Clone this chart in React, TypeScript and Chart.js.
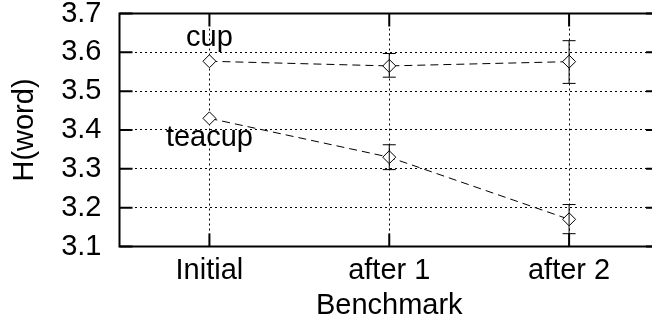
import React, { useEffect, useRef } from 'react';
import { Chart, registerables } from 'chart.js';

Chart.register(...registerables);

const categories = ['Initial', 'after 1', 'after 2'];
const seriesNames = ['cup', 'teacup'];
const cupValues = [3.577, 3.565, 3.576];
const cupLow = [3.577, 3.536, 3.52];
const cupHigh = [3.577, 3.597, 3.63];
const teacupValues = [3.43, 3.33, 3.17];
const teacupLow = [3.43, 3.298, 3.133];
const teacupHigh = [3.43, 3.362, 3.208];
const yMin = 3.1;
const yMax = 3.7;
const yStep = 0.1;
const xTitle = 'Benchmark';
const yTitle = 'H(word)';

const FONT = "'Liberation Sans', Arial, Helvetica, sans-serif";
const FS = 29;

const framePlugin = {
  id: 'frameAndBars',
  afterDatasetsDraw(chart: any) {
    const { ctx, chartArea: a, scales } = chart;
    const x = scales.x;
    const y = scales.y;
    ctx.save();
    ctx.strokeStyle = '#000';
    ctx.setLineDash([]);
    // error bars
    ctx.lineWidth = 1;
    const bars = [
      [cupLow, cupHigh],
      [teacupLow, teacupHigh],
    ];
    bars.forEach(([lo, hi]) => {
      categories.forEach((_, i) => {
        if (lo[i] === hi[i]) return;
        const px = x.getPixelForValue(i);
        const y1 = y.getPixelForValue(lo[i]);
        const y2 = y.getPixelForValue(hi[i]);
        ctx.beginPath();
        ctx.moveTo(px, y1);
        ctx.lineTo(px, y2);
        ctx.moveTo(px - 6.5, y1);
        ctx.lineTo(px + 6.5, y1);
        ctx.moveTo(px - 6.5, y2);
        ctx.lineTo(px + 6.5, y2);
        ctx.stroke();
      });
    });
    // frame
    ctx.lineWidth = 2;
    ctx.strokeRect(a.left, a.top, a.right - a.left, a.bottom - a.top);
    // inward ticks (mirrored)
    const tl = 13;
    ctx.beginPath();
    y.ticks.forEach((t: any) => {
      const py = y.getPixelForValue(t.value);
      ctx.moveTo(a.left, py);
      ctx.lineTo(a.left + tl, py);
      ctx.moveTo(a.right, py);
      ctx.lineTo(a.right - tl, py);
    });
    x.ticks.forEach((_: any, i: number) => {
      const px = x.getPixelForTick(i);
      ctx.moveTo(px, a.bottom);
      ctx.lineTo(px, a.bottom - tl);
      ctx.moveTo(px, a.top);
      ctx.lineTo(px, a.top + tl);
    });
    ctx.stroke();
    // series labels
    ctx.font = `${FS}px ${FONT}`;
    ctx.fillStyle = '#000';
    ctx.textAlign = 'center';
    ctx.textBaseline = 'alphabetic';
    const p0 = x.getPixelForValue(0);
    ctx.fillText(seriesNames[0], p0, y.getPixelForValue(cupValues[0]) - 15);
    ctx.fillText(seriesNames[1], p0, y.getPixelForValue(teacupValues[0]) + 28);
    ctx.restore();
  },
};

export default function App() {
  const ref = useRef<HTMLCanvasElement | null>(null);
  useEffect(() => {
    if (!ref.current) return;
    const ds = (name: string, data: number[]) => ({
      label: name,
      data,
      borderColor: '#000',
      borderWidth: 1,
      borderDash: [8, 5],
      pointStyle: 'rectRot',
      pointRadius: 6.5,
      pointBorderWidth: 1,
      pointBorderColor: '#000',
      pointBackgroundColor: '#fff',
      fill: false,
      tension: 0,
    });
    const chart = new Chart(ref.current, {
      type: 'line',
      data: {
        labels: categories,
        datasets: [ds(seriesNames[0], cupValues), ds(seriesNames[1], teacupValues)],
      },
      options: {
        responsive: false,
        animation: false,
        devicePixelRatio: 1,
        layout: { padding: { left: 0, top: 13.5, right: 21, bottom: 0 } },
        plugins: { legend: { display: false }, tooltip: { enabled: false } },
        scales: {
          x: {
            type: 'category',
            offset: true,
            grid: { offset: false, drawTicks: false, color: '#000', lineWidth: 1 },
            border: { display: false, dash: [2, 3] },
            ticks: { color: '#000', font: { family: FONT, size: FS }, padding: 7, maxRotation: 0, autoSkip: false },
            title: {
              display: true,
              text: xTitle,
              color: '#000',
              font: { family: FONT, size: FS, lineHeight: 1 },
              padding: { top: 0, bottom: 2 },
            },
            afterFit: (s: any) => {
              s.height = 75.5;
              s.paddingLeft = 0;
              s.paddingRight = 0;
            },
          },
          y: {
            min: yMin,
            max: yMax,
            grid: { drawTicks: false, color: '#000', lineWidth: 1 },
            border: { display: false, dash: [2, 3] },
            ticks: {
              stepSize: yStep,
              autoSkip: false,
              color: '#000',
              font: { family: FONT, size: FS },
              padding: 18,
              callback: (v: any) => Number(v).toFixed(1),
            },
            title: {
              display: true,
              text: yTitle,
              color: '#000',
              font: { family: FONT, size: FS, lineHeight: 1 },
              padding: { top: 10, bottom: 0 },
            },
            afterFit: (s: any) => {
              s.width = 119.5;
              s.paddingTop = 0;
              s.paddingBottom = 0;
            },
          },
        },
      },
      plugins: [framePlugin],
    } as any);
    return () => chart.destroy();
  }, []);
  return (
    <div style={{ position: 'fixed', left: 0, top: 0, width: 652, height: 322, overflow: 'hidden', background: '#fff' }}>
      <canvas ref={ref} width={680} height={322} style={{ display: 'block' }} />
    </div>
  );
}
